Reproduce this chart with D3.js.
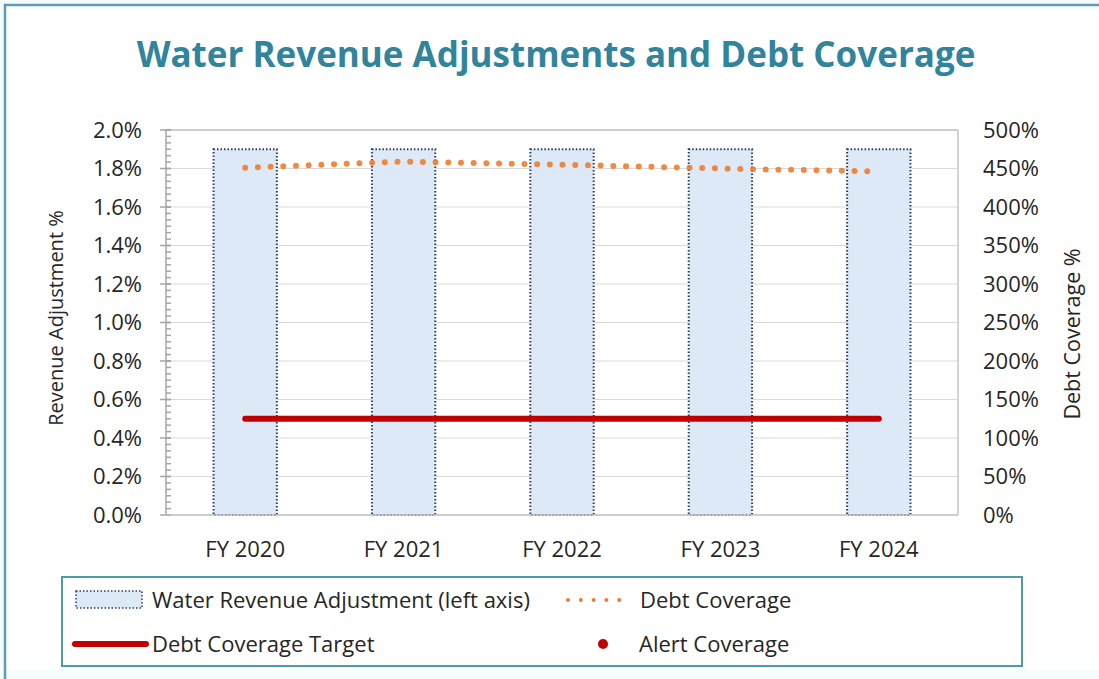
<!DOCTYPE html>
<html>
<head>
<meta charset="utf-8">
<script src="https://cdn.jsdelivr.net/npm/d3@7"></script>
<style>
  body { margin: 0; background: #f6fbfc; }
  svg { display: block; font-family: "Open Sans", sans-serif; }
</style>
</head>
<body>
<svg id="chart" width="1099" height="679"></svg>
<script>
// chart data
var years = ["FY 2020", "FY 2021", "FY 2022", "FY 2023", "FY 2024"];
var revenueAdj = [1.9, 1.9, 1.9, 1.9, 1.9];          // % (left axis)
var debtCoverage = [451, 459, 455, 450, 446];       // % (right axis)
var coverageTarget = [125, 125, 125, 125, 125];     // % (right axis)
var leftTicks = [0, 0.2, 0.4, 0.6, 0.8, 1.0, 1.2, 1.4, 1.6, 1.8, 2.0];
var rightTicks = [0, 50, 100, 150, 200, 250, 300, 350, 400, 450, 500];

var svg = d3.select("#chart");
var m = { left: 166, right: 958, top: 130, bottom: 515 };

// white card with teal frame
svg.append("rect").attr("x", 4).attr("y", 4).attr("width", 1200).attr("height", 666)
  .attr("fill", "#fff");
svg.append("path").attr("d", "M5,679 V5 H1099")
  .attr("fill", "none").attr("stroke", "#5b9db2").attr("stroke-width", 2.5);

svg.append("text").attr("x", 556).attr("y", 67).attr("text-anchor", "middle")
  .attr("font-size", 35).attr("font-weight", "bold").attr("fill", "#31849b")
  .text("Water Revenue Adjustments and Debt Coverage");

var x = d3.scaleBand().domain(years).range([m.left, m.right]);
var yL = d3.scaleLinear().domain([0, 2.0]).range([m.bottom, m.top]);
var yR = d3.scaleLinear().domain([0, 500]).range([m.bottom, m.top]);

// gridlines
svg.append("g").selectAll("line").data(leftTicks.slice(1)).join("line")
  .attr("x1", m.left).attr("x2", m.right)
  .attr("y1", function(d) { return yL(d); }).attr("y2", function(d) { return yL(d); })
  .attr("stroke", "#d9d9d9").attr("stroke-width", 1);
svg.append("line").attr("x1", m.right).attr("x2", m.right).attr("y1", m.top).attr("y2", m.bottom)
  .attr("stroke", "#c4c4c4").attr("stroke-width", 1.5);
svg.append("line").attr("x1", m.left).attr("x2", m.right).attr("y1", m.top).attr("y2", m.top)
  .attr("stroke", "#c4c4c4").attr("stroke-width", 1.5);

// bars
var bw = x.bandwidth() * 0.4;
svg.append("g").selectAll("rect").data(years).join("rect")
  .attr("x", function(d) { return x(d) + x.bandwidth() / 2 - bw / 2; })
  .attr("y", function(d, i) { return yL(revenueAdj[i]); })
  .attr("width", bw)
  .attr("height", function(d, i) { return yL(0) - yL(revenueAdj[i]); })
  .attr("fill", "#dde9f6").attr("stroke", "#2a3f66").attr("stroke-width", 2)
  .attr("stroke-dasharray", "1.5,2");

// left axis with minor ticks
var minor = d3.range(0, 61).map(function(i) { return i * 2.0 / 60; });
svg.append("g").selectAll("line").data(minor).join("line")
  .attr("x1", m.left).attr("x2", m.left + 5)
  .attr("y1", function(d) { return yL(d); }).attr("y2", function(d) { return yL(d); })
  .attr("stroke", "#a6a6a6").attr("stroke-width", 1.5);
svg.append("g").selectAll("line").data(leftTicks).join("line")
  .attr("x1", m.left - 6).attr("x2", m.left + 5)
  .attr("y1", function(d) { return yL(d); }).attr("y2", function(d) { return yL(d); })
  .attr("stroke", "#a6a6a6").attr("stroke-width", 1.5);
svg.append("line").attr("x1", m.left).attr("x2", m.left).attr("y1", m.top).attr("y2", m.bottom)
  .attr("stroke", "#a6a6a6").attr("stroke-width", 1.5);
svg.append("line").attr("x1", m.left - 6).attr("x2", m.right).attr("y1", m.bottom).attr("y2", m.bottom)
  .attr("stroke", "#bdbdbd").attr("stroke-width", 1.5);

svg.append("g").selectAll("text").data(leftTicks).join("text")
  .attr("x", 142).attr("y", function(d) { return yL(d); }).attr("dy", "0.36em")
  .attr("text-anchor", "end").attr("font-size", 22).attr("fill", "#262626")
  .text(function(d) { return d.toFixed(1) + "%"; });
svg.append("g").selectAll("text").data(rightTicks).join("text")
  .attr("x", 983).attr("y", function(d) { return yR(d); }).attr("dy", "0.36em")
  .attr("font-size", 22).attr("fill", "#262626")
  .text(function(d) { return d + "%"; });
svg.append("g").selectAll("text").data(years).join("text")
  .attr("x", function(d) { return x(d) + x.bandwidth() / 2; }).attr("y", 557)
  .attr("text-anchor", "middle").attr("font-size", 22).attr("fill", "#262626")
  .text(function(d) { return d; });

svg.append("text").attr("transform", "translate(63,318) rotate(-90)")
  .attr("text-anchor", "middle").attr("font-size", 20).attr("fill", "#262626")
  .text("Revenue Adjustment %");
svg.append("text").attr("transform", "translate(1080,334) rotate(-90)")
  .attr("text-anchor", "middle").attr("font-size", 21.5).attr("fill", "#262626")
  .text("Debt Coverage %");

// lines on right axis
var cx = function(d, i) { return x(years[i]) + x.bandwidth() / 2; };
var target = d3.line().x(cx).y(function(d) { return yR(d); });
svg.append("path").attr("d", target(coverageTarget))
  .attr("fill", "none").attr("stroke", "#c00000").attr("stroke-width", 6)
  .attr("stroke-linecap", "round");
svg.append("path").attr("d", target(debtCoverage))
  .attr("fill", "none").attr("stroke", "#ed7d31").attr("stroke-width", 6)
  .attr("stroke-linecap", "round").attr("stroke-dasharray", "0,12.7").attr("opacity", 0.9);

// legend
svg.append("rect").attr("x", 62).attr("y", 577).attr("width", 960).attr("height", 89)
  .attr("fill", "#fff").attr("stroke", "#4e9aa5").attr("stroke-width", 2);
svg.append("rect").attr("x", 76).attr("y", 591).attr("width", 66).attr("height", 17)
  .attr("fill", "#dde9f6").attr("stroke", "#2a3f66").attr("stroke-width", 1.5)
  .attr("stroke-dasharray", "1.5,2");
svg.append("line").attr("x1", 75).attr("x2", 146).attr("y1", 644).attr("y2", 644)
  .attr("stroke", "#c00000").attr("stroke-width", 6).attr("stroke-linecap", "round");
svg.append("line").attr("x1", 568).attr("x2", 632).attr("y1", 600).attr("y2", 600)
  .attr("stroke", "#ed7d31").attr("stroke-width", 4).attr("stroke-linecap", "round")
  .attr("stroke-dasharray", "0,12.8");
svg.append("circle").attr("cx", 603).attr("cy", 644).attr("r", 5).attr("fill", "#c00000");

var legendText = [
  ["Water Revenue Adjustment (left axis)", 152, 600],
  ["Debt Coverage", 640, 600],
  ["Debt Coverage Target", 152, 644],
  ["Alert Coverage", 639, 644]
];
svg.append("g").selectAll("text").data(legendText).join("text")
  .attr("x", function(d) { return d[1]; }).attr("y", function(d) { return d[2]; })
  .attr("dy", "0.36em").attr("font-size", 22).attr("fill", "#262626")
  .text(function(d) { return d[0]; });
</script>
</body>
</html>
